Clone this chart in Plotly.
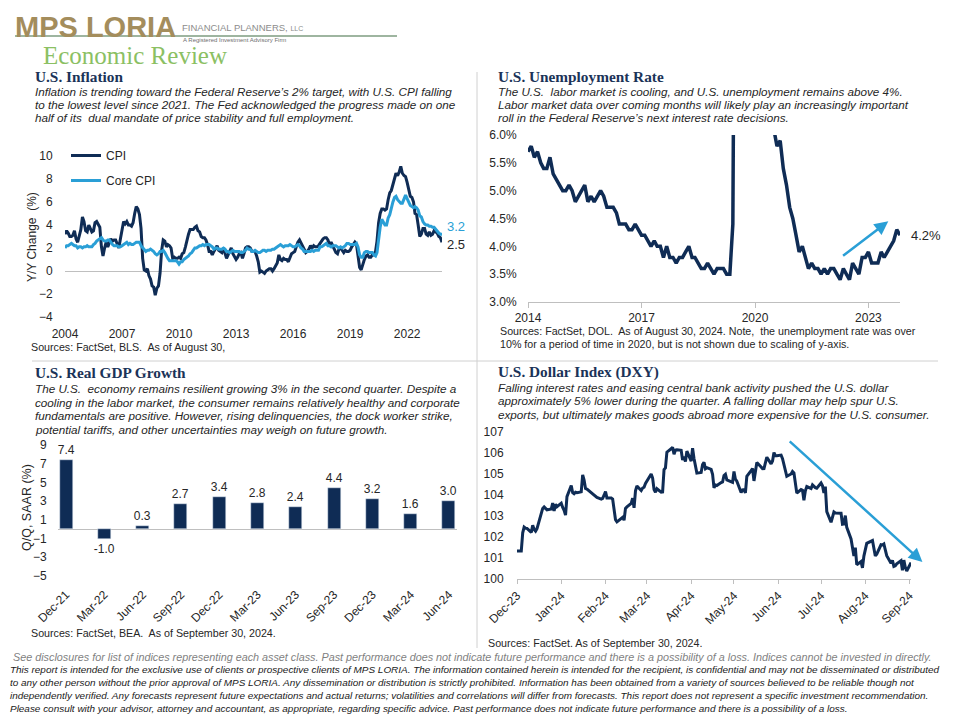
import plotly.graph_objects as go
import pandas as pd

# The page body has an 8px margin, so the figure is drawn 8px smaller and every
# reference pixel position is shifted by that offset.
OFF = 8
W, H = 960 - OFF, 720 - OFF
NAVY = "#0F2C55"
LBLUE = "#2A9FD6"
AXIS = "#BFBFBF"
TXT = "#262626"
SANS = "Liberation Sans, Arial, sans-serif"
SERIF = "Liberation Serif, Times New Roman, serif"

# ---------------- data ----------------
cpi_start = "2004-10-01"
cpi_values = [
    3.2, 3.5, 3.3,
    3.0, 3.0, 3.1, 3.5, 2.8, 2.5, 3.2, 3.6, 4.7, 4.3, 3.5, 3.4,
    4.0, 3.6, 3.4, 3.5, 4.2, 4.3, 4.1, 3.8, 2.1, 1.3, 2.0, 2.5,
    2.1, 2.4, 2.8, 2.6, 2.7, 2.7, 2.4, 2.0, 2.8, 3.5, 4.3, 4.1,
    4.3, 4.0, 4.0, 3.9, 4.2, 5.0, 5.6, 5.4, 4.9, 3.7, 1.1, 0.1,
    0.0, 0.2, -0.4, -0.7, -1.3, -1.4, -2.1, -1.5, -1.3, -0.2, 1.8, 2.7,
    2.6, 2.1, 2.3, 2.2, 2.0, 1.1, 1.2, 1.1, 1.1, 1.2, 1.1, 1.5,
    1.6, 2.1, 2.7, 3.2, 3.6, 3.6, 3.6, 3.8, 3.9, 3.5, 3.4, 3.0,
    2.9, 2.9, 2.7, 2.3, 1.7, 1.7, 1.4, 1.7, 2.0, 2.2, 1.8, 1.7,
    1.6, 2.0, 1.5, 1.1, 1.4, 1.8, 2.0, 1.5, 1.2, 1.0, 1.2, 1.5,
    1.6, 1.1, 1.5, 2.0, 2.1, 2.1, 2.0, 1.7, 1.7, 1.7, 1.3, 0.8,
    -0.1, 0.0, -0.1, -0.2, 0.0, 0.1, 0.2, 0.2, 0.0, 0.2, 0.5, 0.7,
    1.4, 1.0, 0.9, 1.1, 1.0, 1.0, 0.8, 1.1, 1.5, 1.6, 1.7, 2.1,
    2.5, 2.7, 2.4, 2.2, 1.9, 1.6, 1.7, 1.9, 2.2, 2.0, 2.2, 2.1,
    2.1, 2.2, 2.4, 2.5, 2.8, 2.9, 2.9, 2.7, 2.3, 2.5, 2.2, 1.9,
    1.6, 1.5, 1.9, 2.0, 1.8, 1.6, 1.8, 1.7, 1.7, 1.8, 2.1, 2.3,
    2.5, 2.3, 1.5, 0.3, 0.1, 0.6, 1.0, 1.3, 1.4, 1.2, 1.2, 1.4,
    1.4, 1.7, 2.6, 4.2, 5.0, 5.4, 5.4, 5.3, 5.4, 6.2, 6.8, 7.0,
    7.5, 7.9, 8.5, 8.3, 8.6, 9.1, 8.5, 8.3, 8.2, 7.7, 7.1, 6.5,
    6.4, 6.0, 5.0, 4.9, 4.0, 3.0, 3.2, 3.7, 3.7, 3.2, 3.1, 3.4,
    3.1, 3.2, 3.5, 3.4, 3.3, 3.0, 2.9, 2.5,
]
core_cpi_values = [
    2.0, 2.2, 2.2,
    2.3, 2.4, 2.3, 2.2, 2.2, 2.0, 2.1, 2.1, 2.0, 2.1, 2.1, 2.2,
    2.1, 2.1, 2.1, 2.3, 2.4, 2.6, 2.7, 2.8, 2.9, 2.7, 2.6, 2.6,
    2.7, 2.7, 2.5, 2.3, 2.2, 2.2, 2.2, 2.1, 2.1, 2.2, 2.3, 2.4,
    2.5, 2.3, 2.4, 2.3, 2.3, 2.4, 2.5, 2.5, 2.5, 2.2, 2.0, 1.8,
    1.7, 1.8, 1.8, 1.9, 1.8, 1.7, 1.5, 1.4, 1.5, 1.7, 1.7, 1.8,
    1.6, 1.3, 1.1, 0.9, 0.9, 0.9, 0.9, 0.9, 0.8, 0.6, 0.8, 0.8,
    1.0, 1.1, 1.2, 1.3, 1.5, 1.6, 1.8, 2.0, 2.0, 2.1, 2.2, 2.2,
    2.3, 2.2, 2.3, 2.3, 2.3, 2.2, 2.1, 1.9, 2.0, 2.0, 1.9, 1.9,
    1.9, 2.0, 1.9, 1.7, 1.7, 1.6, 1.7, 1.8, 1.7, 1.7, 1.7, 1.7,
    1.6, 1.6, 1.7, 1.8, 2.0, 1.9, 1.9, 1.7, 1.7, 1.8, 1.7, 1.6,
    1.6, 1.7, 1.8, 1.8, 1.7, 1.8, 1.8, 1.8, 1.9, 1.9, 2.0, 2.1,
    2.2, 2.3, 2.2, 2.1, 2.2, 2.2, 2.2, 2.3, 2.2, 2.1, 2.1, 2.2,
    2.3, 2.2, 2.0, 1.9, 1.7, 1.7, 1.7, 1.7, 1.7, 1.8, 1.7, 1.8,
    1.8, 1.8, 2.1, 2.1, 2.2, 2.3, 2.4, 2.2, 2.2, 2.1, 2.2, 2.2,
    2.2, 2.1, 2.0, 2.1, 2.0, 2.1, 2.2, 2.4, 2.4, 2.3, 2.3, 2.3,
    2.3, 2.4, 2.1, 1.4, 1.2, 1.2, 1.6, 1.7, 1.7, 1.6, 1.6, 1.6,
    1.4, 1.3, 1.6, 3.0, 3.8, 4.5, 4.3, 4.0, 4.0, 4.6, 4.9, 5.5,
    6.0, 6.4, 6.5, 6.2, 6.0, 5.9, 5.9, 6.3, 6.6, 6.3, 6.0, 5.7,
    5.6, 5.5, 5.6, 5.5, 5.3, 4.8, 4.7, 4.3, 4.1, 4.0, 4.0, 3.9,
    3.9, 3.8, 3.8, 3.6, 3.4, 3.3, 3.2, 3.2,
]
cpi_tick_labels = ["2004", "2007", "2010", "2013", "2016", "2019", "2022"]

unemp_start = "2014-10-01"
unemp_values = [
    5.7, 5.8, 5.6,
    5.7, 5.5, 5.4, 5.4, 5.6, 5.3, 5.2, 5.1, 5.0, 5.0, 5.1, 5.0,
    4.8, 4.9, 5.0, 5.1, 4.8, 4.9, 4.8, 4.9, 5.0, 4.9, 4.7, 4.7,
    4.7, 4.6, 4.4, 4.4, 4.4, 4.3, 4.3, 4.4, 4.3, 4.2, 4.2, 4.1,
    4.0, 4.1, 4.0, 4.0, 3.8, 4.0, 3.8, 3.8, 3.7, 3.8, 3.8, 3.9,
    4.0, 3.8, 3.8, 3.7, 3.6, 3.6, 3.7, 3.6, 3.5, 3.6, 3.6, 3.6,
    3.5, 3.5, 4.4, 14.8, 13.2, 11.0, 10.2, 8.4, 7.8, 6.8, 6.7, 6.7,
    6.4, 6.2, 6.1, 6.1, 5.8, 5.9, 5.4, 5.1, 4.7, 4.5, 4.2, 3.9,
    4.0, 3.8, 3.6, 3.7, 3.6, 3.6, 3.5, 3.6, 3.5, 3.6, 3.6, 3.5,
    3.4, 3.6, 3.5, 3.4, 3.7, 3.6, 3.5, 3.8, 3.8, 3.9, 3.7, 3.7,
    3.7, 3.9, 3.8, 3.9, 4.0, 4.1, 4.3, 4.2,
]
unemp_tick_labels = ["2014", "2017", "2020", "2023"]

gdp_quarters = ["Dec-21", "Mar-22", "Jun-22", "Sep-22", "Dec-22", "Mar-23",
                "Jun-23", "Sep-23", "Dec-23", "Mar-24", "Jun-24"]
gdp_values = [7.4, -1.0, 0.3, 2.7, 3.4, 2.8, 2.4, 4.4, 3.2, 1.6, 3.0]

dxy_dates = [
    "2023-12-29", "2024-01-01", "2024-01-02", "2024-01-03", "2024-01-04", "2024-01-05", "2024-01-08",
    "2024-01-09", "2024-01-10", "2024-01-11", "2024-01-12", "2024-01-16", "2024-01-17",
    "2024-01-18", "2024-01-19", "2024-01-22", "2024-01-23", "2024-01-24", "2024-01-25",
    "2024-01-26", "2024-01-29", "2024-01-30", "2024-01-31", "2024-02-01", "2024-02-02",
    "2024-02-05", "2024-02-06", "2024-02-07", "2024-02-08", "2024-02-09", "2024-02-12",
    "2024-02-13", "2024-02-14", "2024-02-15", "2024-02-16", "2024-02-20", "2024-02-21",
    "2024-02-22", "2024-02-23", "2024-02-26", "2024-02-27", "2024-02-28", "2024-02-29",
    "2024-03-01", "2024-03-04", "2024-03-05", "2024-03-06", "2024-03-07", "2024-03-08",
    "2024-03-11", "2024-03-12", "2024-03-13", "2024-03-14", "2024-03-15", "2024-03-18",
    "2024-03-19", "2024-03-20", "2024-03-21", "2024-03-22", "2024-03-25", "2024-03-26",
    "2024-03-27", "2024-03-28", "2024-04-01", "2024-04-02", "2024-04-03", "2024-04-04",
    "2024-04-05", "2024-04-08", "2024-04-09", "2024-04-10", "2024-04-11", "2024-04-12",
    "2024-04-15", "2024-04-16", "2024-04-17", "2024-04-18", "2024-04-19", "2024-04-22",
    "2024-04-23", "2024-04-24", "2024-04-25", "2024-04-26", "2024-04-29", "2024-04-30",
    "2024-05-01", "2024-05-02", "2024-05-03", "2024-05-06", "2024-05-07", "2024-05-08",
    "2024-05-09", "2024-05-10", "2024-05-13", "2024-05-14", "2024-05-15", "2024-05-16",
    "2024-05-17", "2024-05-20", "2024-05-21", "2024-05-22", "2024-05-23", "2024-05-24",
    "2024-05-28", "2024-05-29", "2024-05-30", "2024-05-31", "2024-06-03", "2024-06-04",
    "2024-06-05", "2024-06-06", "2024-06-07", "2024-06-10", "2024-06-11", "2024-06-12",
    "2024-06-13", "2024-06-14", "2024-06-17", "2024-06-18", "2024-06-19", "2024-06-20",
    "2024-06-21", "2024-06-24", "2024-06-25", "2024-06-26", "2024-06-27", "2024-06-28",
    "2024-07-01", "2024-07-02", "2024-07-03", "2024-07-05", "2024-07-08", "2024-07-09",
    "2024-07-10", "2024-07-11", "2024-07-12", "2024-07-15", "2024-07-16", "2024-07-17",
    "2024-07-18", "2024-07-19", "2024-07-22", "2024-07-23", "2024-07-24", "2024-07-25",
    "2024-07-26", "2024-07-29", "2024-07-30", "2024-07-31", "2024-08-01", "2024-08-02",
    "2024-08-05", "2024-08-06", "2024-08-07", "2024-08-08", "2024-08-09", "2024-08-12",
    "2024-08-13", "2024-08-14", "2024-08-15", "2024-08-16", "2024-08-19", "2024-08-20",
    "2024-08-21", "2024-08-22", "2024-08-23", "2024-08-26", "2024-08-27", "2024-08-28",
    "2024-08-29", "2024-08-30", "2024-09-03", "2024-09-04", "2024-09-05", "2024-09-06",
    "2024-09-09", "2024-09-10", "2024-09-11", "2024-09-12", "2024-09-13", "2024-09-16",
    "2024-09-17", "2024-09-18", "2024-09-19", "2024-09-20", "2024-09-23", "2024-09-24",
    "2024-09-25", "2024-09-26", "2024-09-27", "2024-09-30",
]
dxy_values = [
    101.33, 101.33, 102.20, 102.47, 102.42, 102.41, 102.22,
    102.56, 102.36, 102.28, 102.40, 103.36, 103.43,
    103.38, 103.29, 103.33, 103.62, 103.24, 103.56,
    103.44, 103.61, 103.41, 103.27, 103.04, 103.92,
    104.45, 104.11, 104.06, 104.13, 104.11, 104.15,
    104.96, 104.71, 104.31, 104.28, 104.05, 103.99,
    103.94, 103.88, 103.80, 103.84, 103.99, 104.16,
    103.86, 103.86, 103.81, 103.33, 102.82, 102.72,
    102.86, 102.94, 102.80, 103.36, 103.43, 103.60,
    103.85, 103.39, 104.20, 104.43, 104.21, 104.33,
    104.37, 104.55, 105.00, 104.81, 104.26, 104.13,
    104.30, 104.14, 104.15, 105.21, 105.29, 106.04,
    106.20, 106.27, 105.94, 106.14, 106.15, 106.13,
    105.67, 105.83, 105.59, 106.09, 105.61, 106.23,
    105.74, 105.32, 105.04, 105.07, 105.45, 105.55,
    105.25, 105.30, 105.22, 104.99, 104.34, 104.48,
    104.45, 104.59, 104.62, 104.93, 104.99, 104.72,
    104.60, 105.12, 104.75, 104.66, 104.12, 104.25,
    104.26, 104.10, 104.89, 105.16, 105.26, 104.67,
    105.22, 105.55, 105.33, 105.25, 105.26, 105.60,
    105.80, 105.48, 105.62, 106.02, 105.87, 105.87,
    105.90, 105.73, 105.39, 104.89, 105.00, 105.12,
    105.05, 104.41, 104.09, 104.26, 104.23, 103.75,
    104.20, 104.40, 104.31, 104.48, 104.39, 104.35,
    104.32, 104.57, 104.44, 104.10, 104.40, 103.21,
    102.70, 102.98, 103.19, 103.14, 103.14, 103.13,
    102.61, 102.62, 103.02, 102.46, 101.91, 101.43,
    101.09, 101.50, 100.68, 100.83, 100.53, 101.09,
    101.34, 101.70, 101.83, 101.36, 101.10, 101.18,
    101.63, 101.62, 101.67, 101.39, 101.11, 100.75,
    100.89, 100.60, 100.63, 100.72, 100.87, 100.41,
    100.90, 100.56, 100.38, 100.78,
]
dxy_tick_dates = ["2023-12-29", "2024-01-29", "2024-02-29", "2024-03-29", "2024-04-29",
                  "2024-05-29", "2024-06-29", "2024-07-29", "2024-08-29", "2024-09-29"]
dxy_tick_labels = ["Dec-23", "Jan-24", "Feb-24", "Mar-24", "Apr-24",
                   "May-24", "Jun-24", "Jul-24", "Aug-24", "Sep-24"]

cpi_dates = pd.date_range(cpi_start, periods=len(cpi_values), freq="MS")
unemp_dates = pd.date_range(unemp_start, periods=len(unemp_values), freq="MS")


def fx(px):
    return (px - OFF) / W


def fy(py):
    return 1 - (py - OFF) / H


def dom_x(a, b):
    return [fx(a), fx(b)]


def dom_y(top, bottom):
    return [fy(bottom), fy(top)]


tickfont = dict(family=SANS, size=12, color=TXT)
CLEAR = "rgba(0,0,0,0)"

fig = go.Figure()
fig.add_trace(go.Scatter(x=cpi_dates, y=cpi_values, mode="lines", name="CPI",
                         line=dict(color=NAVY, width=3), xaxis="x", yaxis="y",
                         legendgroup="a"))
fig.add_trace(go.Scatter(x=cpi_dates, y=core_cpi_values, mode="lines", name="Core CPI",
                         line=dict(color=LBLUE, width=3), xaxis="x", yaxis="y",
                         legendgroup="b"))
fig.add_trace(go.Scatter(x=unemp_dates, y=unemp_values, mode="lines", showlegend=False,
                         line=dict(color=NAVY, width=3.5), xaxis="x2", yaxis="y2"))
fig.add_trace(go.Bar(x=gdp_quarters, y=gdp_values, marker_color=NAVY, width=0.34,
                     text=[f"{v:.1f}" for v in gdp_values], textposition="outside",
                     textfont=dict(family=SANS, size=12, color=TXT), cliponaxis=False,
                     constraintext="none", showlegend=False, xaxis="x3", yaxis="y3"))
fig.add_trace(go.Scatter(x=dxy_dates, y=dxy_values, mode="lines", showlegend=False,
                         line=dict(color=NAVY, width=3), xaxis="x4", yaxis="y4"))

common = dict(showgrid=False, automargin=False, tickfont=tickfont)

fig.update_layout(
    width=W, height=H, margin=dict(l=0, r=0, t=0, b=0, autoexpand=False),
    autosize=False,
    paper_bgcolor="white", plot_bgcolor="white",
    font=dict(family=SANS, size=12, color=TXT),
    showlegend=True,
    legend=dict(x=fx(66), y=fy(141), xanchor="left", yanchor="top",
                font=dict(family=SANS, size=12, color=TXT), bgcolor=CLEAR,
                tracegroupgap=6, itemwidth=30),
    bargap=0,
    # CPI
    xaxis=dict(domain=dom_x(65, 442), anchor="y", type="date",
               range=[cpi_dates[0], cpi_dates[-1]],
               tickvals=list(cpi_dates[::36]), ticktext=cpi_tick_labels,
               zeroline=False, showline=False,
               ticks="outside", ticklen=6, tickcolor=CLEAR, **common),
    yaxis=dict(domain=dom_y(156, 317), anchor="x", range=[-4, 10],
               tickvals=list(range(-4, 11, 2)),
               zeroline=True, zerolinecolor=AXIS, zerolinewidth=1, showline=False,
               ticks="outside", ticklen=9, tickcolor=CLEAR, **common),
    # Unemployment
    xaxis2=dict(domain=dom_x(528, 900), anchor="y2", type="date",
                range=[unemp_dates[0], unemp_dates[-1]],
                tickvals=list(unemp_dates[::36]), ticktext=unemp_tick_labels,
                zeroline=False, showline=True, linecolor=AXIS,
                ticks="outside", ticklen=5, tickcolor=AXIS, **common),
    yaxis2=dict(domain=dom_y(135, 302), anchor="x2", range=[3, 6], dtick=0.5,
                tickformat=".1f", ticksuffix="%", zeroline=False,
                showline=False, ticks="outside", ticklen=8, tickcolor=CLEAR, **common),
    # GDP
    xaxis3=dict(domain=dom_x(58, 457), anchor="y3", type="category",
                range=[-0.21, len(gdp_quarters) - 1 + 0.21], tickangle=-45,
                zeroline=False, showline=False,
                ticks="outside", ticklen=6, tickcolor=CLEAR, **common),
    yaxis3=dict(domain=dom_y(445, 576), anchor="x3", range=[-5, 9],
                tickvals=list(range(-5, 10, 2)),
                zeroline=True, zerolinecolor=AXIS, zerolinewidth=1, showline=False,
                ticks="outside", ticklen=8, tickcolor=CLEAR, **common),
    # DXY
    xaxis4=dict(domain=dom_x(517, 911), anchor="y4", type="date",
                range=["2023-12-29", "2024-09-30"],
                tickvals=dxy_tick_dates, ticktext=dxy_tick_labels, tickangle=-45,
                zeroline=False, showline=True, linecolor=AXIS,
                ticks="outside", ticklen=4, tickcolor=AXIS, **common),
    yaxis4=dict(domain=dom_y(432, 579), anchor="x4", range=[100, 107], dtick=1,
                zeroline=False, showline=False,
                ticks="outside", ticklen=10, tickcolor=CLEAR, **common),
)


def txt(x, y, s, size=11, color=TXT, family=SANS, anchor="left", angle=0):
    fig.add_annotation(xref="paper", yref="paper", x=fx(x), y=fy(y), text=s,
                       showarrow=False, xanchor=anchor, yanchor="middle",
                       textangle=angle, borderpad=0,
                       font=dict(family=family, size=size, color=color))


# Header / logo
txt(14, 27, "<b>MPS LORIA</b>", size=29, color="#A48D5C", family=SANS)
txt(181, 27, "FINANCIAL PLANNERS, <span style='font-size:7px'>LLC</span>", size=9.5,
    color="#8C8C8C", family=SANS)
txt(182, 40.5, "A Registered Investment Advisory Firm", size=6, color="#6F6F6F", family=SANS)
txt(42, 56, "Economic Review", size=25, color="#8BC063", family=SERIF)

TITLE = "#1B3358"
# Panel titles
txt(34, 76, "<b>U.S. Inflation</b>", size=15.3, color=TITLE, family=SERIF)
txt(497, 76, "<b>U.S. Unemployment Rate</b>", size=15.3, color=TITLE, family=SERIF)
txt(34, 373, "<b>U.S. Real GDP Growth</b>", size=15.3, color=TITLE, family=SERIF)
txt(497, 372, "<b>U.S. Dollar Index (DXY)</b>", size=15.3, color=TITLE, family=SERIF)

desc_inflation = [
    "Inflation is trending toward the Federal Reserve’s 2% target, with U.S. CPI falling",
    "to the lowest level since 2021. The Fed acknowledged the progress made on one",
    "half of its  dual mandate of price stability and full employment.",
]
desc_unemp = [
    "The U.S.  labor market is cooling, and U.S. unemployment remains above 4%.",
    "Labor market data over coming months will likely play an increasingly important",
    "roll in the Federal Reserve’s next interest rate decisions.",
]
desc_gdp = [
    "The U.S.  economy remains resilient growing 3% in the second quarter. Despite a",
    "cooling in the labor market, the consumer remains relatively healthy and corporate",
    "fundamentals are positive. However, rising delinquencies, the dock worker strike,",
    "potential tariffs, and other uncertainties may weigh on future growth.",
]
desc_dxy = [
    "Falling interest rates and easing central bank activity pushed the U.S. dollar",
    "approximately 5% lower during the quarter. A falling dollar may help spur U.S.",
    "exports, but ultimately makes goods abroad more expensive for the U.S. consumer.",
]
DS = 11.7
for i, line in enumerate(desc_inflation):
    txt(34, 91 + i * 13.5, f"<i>{line}</i>", size=DS)
for i, line in enumerate(desc_unemp):
    txt(497, 91 + i * 13.5, f"<i>{line}</i>", size=DS)
for i, line in enumerate(desc_gdp):
    txt(34, 388 + i * 14, f"<i>{line}</i>", size=DS)
for i, line in enumerate(desc_dxy):
    txt(497, 387 + i * 13.7, f"<i>{line}</i>", size=DS)

# Axis titles
txt(32, 237, "Y/Y Change  (%)", size=12, anchor="center", angle=-90)
txt(27, 508, "Q/Q, SAAR (%)", size=12.5, anchor="center", angle=-90)

# Sources
SS = 10.7
txt(30, 347, "Sources: FactSet, BLS.  As of August 30,", size=SS)
txt(499, 331, "Sources: FactSet, DOL.  As of August 30, 2024. Note,  the unemployment rate was over", size=SS)
txt(499, 344, "10% for a period of time in 2020, but is not shown due to scaling of y-axis.", size=SS)
txt(30, 633, "Sources: FactSet, BEA.  As of September 30, 2024.", size=SS)
txt(487, 643, "Sources: FactSet. As of September 30, 2024.", size=SS)

# Footer
txt(12, 657, "<i>See disclosures for list of indices representing each asset class. Past performance does not indicate future performance and there is a possibility of a loss. Indices cannot be invested in directly.</i>",
    size=10.8, color="#7F7F7F")
footer = [
    "This report is intended for the exclusive use of clients or prospective clients of MPS LORIA. The information contained herein is intended for the recipient, is confidential and may not be disseminated or distributed",
    "to any other person without the prior approval of MPS LORIA. Any dissemination or distribution is strictly prohibited. Information has been obtained from a variety of sources believed to be reliable though not",
    "independently verified. Any forecasts represent future expectations and actual returns; volatilities and correlations will differ from forecasts. This report does not represent a specific investment recommendation.",
    "Please consult with your advisor, attorney and accountant, as appropriate, regarding specific advice. Past performance does not indicate future performance and there is a possibility of a loss.",
]
for i, line in enumerate(footer):
    txt(9, 669 + i * 13.3, f"<i>{line}</i>", size=9.95, color="#1A1A1A")

# End-of-series labels
fig.add_annotation(xref="x", yref="y", x=cpi_dates[-1], y=core_cpi_values[-1],
                   text=f"{core_cpi_values[-1]:.1f}", showarrow=False, xanchor="left",
                   xshift=3, yshift=8, font=dict(family=SANS, size=13, color=LBLUE))
fig.add_annotation(xref="x", yref="y", x=cpi_dates[-1], y=cpi_values[-1],
                   text=f"{cpi_values[-1]:.1f}", showarrow=False, xanchor="left",
                   xshift=3, yshift=-2, font=dict(family=SANS, size=13, color=TXT))
fig.add_annotation(xref="x2", yref="y2", x=unemp_dates[-1], y=unemp_values[-1],
                   text=f"{unemp_values[-1]:.1f}%", showarrow=False, xanchor="left",
                   xshift=9, font=dict(family=SANS, size=13, color=TXT))

# Trend arrows
fig.add_annotation(xref="x2", yref="y2", axref="x2", ayref="y2",
                   x="2024-04-10", y=4.45, ax="2023-01-15", ay=3.81, text="",
                   showarrow=True, arrowhead=2, arrowsize=1.1, arrowwidth=2.5,
                   arrowcolor=LBLUE, standoff=0)
fig.add_annotation(xref="x4", yref="y4", axref="x4", ayref="y4",
                   x="2024-10-08", y=100.81, ax="2024-07-06", ay=106.62, text="",
                   showarrow=True, arrowhead=2, arrowsize=1.1, arrowwidth=2.5,
                   arrowcolor=LBLUE, standoff=0)

# Separators and header rule
shapes = [
    dict(type="line", xref="paper", yref="paper", x0=fx(15), x1=fx(397),
         y0=fy(36), y1=fy(36), line=dict(color="#7E9C80", width=1.5)),
    dict(type="line", xref="paper", yref="paper", x0=fx(477), x1=fx(477),
         y0=fy(72), y1=fy(648), line=dict(color="#D0D0D0", width=1)),
    dict(type="line", xref="paper", yref="paper", x0=fx(32), x1=fx(938),
         y0=fy(361), y1=fy(361), line=dict(color="#D0D0D0", width=1)),
]
fig.update_layout(shapes=shapes)

fig.write_html("out.html")
